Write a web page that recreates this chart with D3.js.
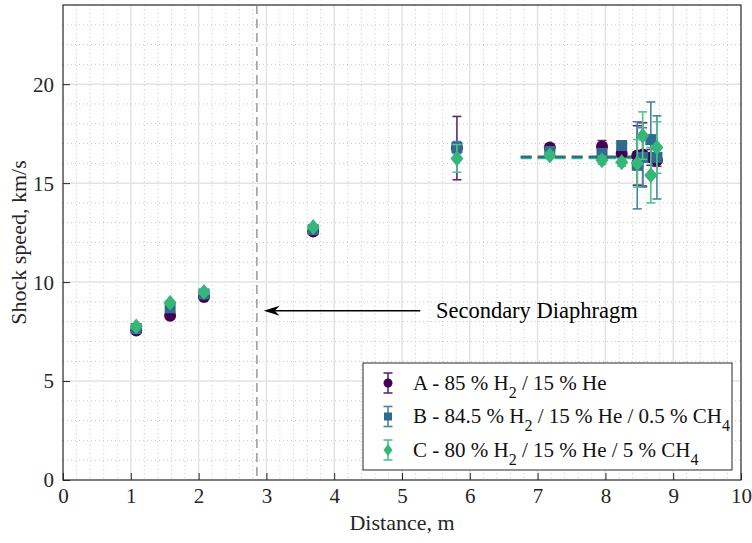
<!DOCTYPE html>
<meta charset="utf-8">
<head>
<style>
  body { margin: 0; background: #fff; }
  svg text { font-family: "Liberation Serif", "Times New Roman", serif; fill: #262626; }
</style>
</head>
<body>
<script src="https://cdnjs.cloudflare.com/ajax/libs/d3/7.8.5/d3.min.js"></script>
<script>

// distances (m) shared by all three mixtures
const distances = [1.08, 1.58, 2.08, 3.69, 5.81, 7.18, 7.95, 8.24, 8.47, 8.55, 8.67, 8.76];

// shock speeds (km/s) and uncertainty per mixture
const speedA = [7.55, 8.3, 9.25, 12.55, 16.77, 16.8, 16.85, 16.5, 16.4, 16.45, 16.3, 16.15];
const errA   = [0.1, 0.1, 0.1, 0.1, 1.6, 0.15, 0.3, 0.2, 1.5, 1.6, 0.4, 0.3];
const speedB = [7.65, 8.7, 9.4, 12.65, 16.8, 16.6, 16.5, 16.9, 15.9, 16.3, 17.2, 16.3];
const errB   = [0.1, 0.1, 0.1, 0.1, 0.3, 0.15, 0.2, 0.2, 2.2, 1.5, 1.9, 2.1];
const speedC = [7.75, 8.95, 9.5, 12.78, 16.25, 16.4, 16.15, 16.05, 16.0, 17.4, 15.4, 16.8];
const errC   = [0.1, 0.1, 0.1, 0.1, 0.7, 0.15, 0.2, 0.2, 1.2, 1.2, 1.4, 1.3];

// mean shock speed lines (dashed) over the end of the tube
const meanRange = [6.75, 8.8];
const meanB = 16.33;
const meanC = 16.27;

const diaphragmX = 2.86;
const arrowFrom = [5.27, 8.55];
const arrowTo = [2.96, 8.55];

const xTicks = d3.range(0, 11, 1);
const yTicks = [0, 5, 10, 15, 20];

const W = 752, H = 543;
const margin = {top: 5, right: 11, bottom: 63, left: 63};
const width = W - margin.left - margin.right,
      height = H - margin.top - margin.bottom;

const x = d3.scaleLinear().domain([0, 10]).range([0, width]);
const y = d3.scaleLinear().domain([0, 24]).range([height, 0]);

const svg = d3.select("body").append("svg")
  .attr("width", W)
  .attr("height", H);

const g = svg.append("g")
  .attr("transform", "translate(" + margin.left + "," + margin.top + ")");

// minor grid
g.append("g").selectAll("line")
  .data(d3.range(0.2, 10, 0.2).filter(v => Math.abs(v - Math.round(v)) > 0.01))
  .join("line")
    .attr("x1", d => x(d)).attr("x2", d => x(d))
    .attr("y1", 0).attr("y2", height)
    .attr("stroke", "#bbb").attr("stroke-width", 0.8)
    .attr("stroke-dasharray", "1,3");
g.append("g").selectAll("line")
  .data(d3.range(1, 24, 1).filter(v => v % 5 !== 0))
  .join("line")
    .attr("x1", 0).attr("x2", width)
    .attr("y1", d => y(d)).attr("y2", d => y(d))
    .attr("stroke", "#bbb").attr("stroke-width", 0.8)
    .attr("stroke-dasharray", "1,3");

// major grid
g.append("g").selectAll("line")
  .data(xTicks.slice(1, -1))
  .join("line")
    .attr("x1", d => x(d)).attr("x2", d => x(d))
    .attr("y1", 0).attr("y2", height)
    .attr("stroke", "#e3e3e3").attr("stroke-width", 1.5);
g.append("g").selectAll("line")
  .data(yTicks.slice(1))
  .join("line")
    .attr("x1", 0).attr("x2", width)
    .attr("y1", d => y(d)).attr("y2", d => y(d))
    .attr("stroke", "#e3e3e3").attr("stroke-width", 1.5);

// axes, ticks pointing inward
const xAxis = d3.axisBottom(x).tickValues(xTicks).tickSizeInner(-7).tickSizeOuter(0).tickPadding(8);
const yAxis = d3.axisLeft(y).tickValues(yTicks).tickSizeInner(-7).tickSizeOuter(0).tickPadding(9);

const gx = g.append("g")
  .attr("transform", "translate(0," + height + ")")
  .call(xAxis);
const gy = g.append("g").call(yAxis);

[gx, gy].forEach(a => {
  a.attr("font-family", null).attr("font-size", null);
  a.select(".domain").remove();
  a.selectAll("line").attr("stroke", "#262626").attr("stroke-width", 1);
  a.selectAll("text")
    .style("font-family", "'Liberation Serif', serif")
    .style("font-size", "21px")
    .attr("fill", "#262626");
});
gy.selectAll("text").attr("dy", "0.33em");

// frame
g.append("rect")
  .attr("width", width).attr("height", height)
  .attr("fill", "none").attr("stroke", "#262626").attr("stroke-width", 1.2);

// secondary diaphragm
g.append("line")
  .attr("x1", x(diaphragmX)).attr("x2", x(diaphragmX))
  .attr("y1", 0).attr("y2", height)
  .attr("stroke", "#808080").attr("stroke-width", 1.2)
  .attr("stroke-dasharray", "9,5");

const ax0 = x(arrowFrom[0]), ax1 = x(arrowTo[0]), ay = y(arrowFrom[1]);
g.append("line")
  .attr("x1", ax0).attr("y1", ay)
  .attr("x2", ax1 + 8).attr("y2", ay)
  .attr("stroke", "#000").attr("stroke-width", 1.6);
g.append("path")
  .attr("d", `M${ax1},${ay} L${ax1 + 16},${ay - 5} L${ax1 + 11},${ay} L${ax1 + 16},${ay + 5} Z`)
  .attr("fill", "#000");

g.append("text")
  .attr("x", x(5.5)).attr("y", ay)
  .attr("dy", "0.33em")
  .style("font-size", "22.5px")
  .style("fill", "#000")
  .text("Secondary Diaphragm");

// mean lines
const colA = "#440154", colB = "#2e6b8e", colC = "#35b779";
const errColA = "#5b2a72", errColB = "#4a82a6", errColC = "#52c28a";

g.append("line")
  .attr("x1", x(meanRange[0])).attr("x2", x(meanRange[1]))
  .attr("y1", y(meanC)).attr("y2", y(meanC))
  .attr("stroke", colC).attr("stroke-width", 2.5)
  .attr("stroke-dasharray", "11,6");
g.append("line")
  .attr("x1", x(meanRange[0])).attr("x2", x(meanRange[1]))
  .attr("y1", y(meanB)).attr("y2", y(meanB))
  .attr("stroke", colB).attr("stroke-width", 2.5)
  .attr("stroke-dasharray", "11,6");

const series = [
  {name: "A", y: speedA, e: errA, col: colA, ecol: errColA, shape: "circle"},
  {name: "B", y: speedB, e: errB, col: colB, ecol: errColB, shape: "square"},
  {name: "C", y: speedC, e: errC, col: colC, ecol: errColC, shape: "diamond"}
];

function drawMarker(sel, shape, col) {
  if (shape === "circle") {
    sel.append("circle").attr("r", 6).attr("fill", col);
  } else if (shape === "square") {
    sel.append("rect").attr("x", -5.5).attr("y", -5.5).attr("width", 11).attr("height", 11).attr("fill", col);
  } else {
    sel.append("path").attr("d", "M0,-8 L6.5,0 L0,8 L-6.5,0 Z").attr("fill", col);
  }
}

function drawErr(sel, half, col) {
  sel.append("line").attr("y1", -half).attr("y2", half).attr("stroke", col).attr("stroke-width", 1.6);
  sel.append("line").attr("x1", -4.5).attr("x2", 4.5).attr("y1", -half).attr("y2", -half).attr("stroke", col).attr("stroke-width", 1.6);
  sel.append("line").attr("x1", -4.5).attr("x2", 4.5).attr("y1", half).attr("y2", half).attr("stroke", col).attr("stroke-width", 1.6);
}

series.forEach(s => {
  const pts = distances.map((d, i) => ({x: d, y: s.y[i], e: s.e[i]}));
  const sg = g.append("g");
  sg.selectAll("g.err")
    .data(pts)
    .join("g")
      .attr("class", "err")
      .attr("transform", d => "translate(" + x(d.x) + "," + y(d.y) + ")")
      .each(function(d) {
        drawErr(d3.select(this), y(d.y - d.e) - y(d.y), s.ecol);
      });
  sg.selectAll("g.pt")
    .data(pts)
    .join("g")
      .attr("class", "pt")
      .attr("transform", d => "translate(" + x(d.x) + "," + y(d.y) + ")")
      .each(function() { drawMarker(d3.select(this), s.shape, s.col); });
});

// legend
const legendLabels = [
  [["A - 85 % H", 0], ["2", 1], [" / 15 % He", 0]],
  [["B - 84.5 % H", 0], ["2", 1], [" / 15 % He / 0.5 % CH", 0], ["4", 1]],
  [["C - 80 % H", 0], ["2", 1], [" / 15 % He / 5 % CH", 0], ["4", 1]]
];

const lg = g.append("g").attr("transform", "translate(" + (363 - margin.left) + "," + (363 - margin.top) + ")");
lg.append("rect")
  .attr("width", 369).attr("height", 107)
  .attr("fill", "#fff").attr("stroke", "#262626").attr("stroke-width", 1);

series.forEach((s, i) => {
  const row = lg.append("g").attr("transform", "translate(25," + (20 + i * 33.5) + ")");
  drawErr(row, 10, s.ecol);
  const m = row.append("g");
  if (s.shape === "circle") m.append("circle").attr("r", 4.5).attr("fill", s.col);
  else if (s.shape === "square") m.append("rect").attr("x", -4).attr("y", -4).attr("width", 8).attr("height", 8).attr("fill", s.col);
  else m.append("path").attr("d", "M0,-6 L4.5,0 L0,6 L-4.5,0 Z").attr("fill", s.col);

  const t = row.append("text")
    .attr("x", 25).attr("y", 0).attr("dy", "0.33em")
    .style("font-size", "21px")
    .style("fill", "#111");
  let sub = false;
  legendLabels[i].forEach(([txt, isSub]) => {
    const ts = t.append("tspan").text(txt);
    if (isSub && !sub) { ts.attr("dy", 8).style("font-size", "16px"); sub = true; }
    else if (!isSub && sub) { ts.attr("dy", -8); sub = false; }
  });
});

// axis titles
svg.append("text")
  .attr("x", margin.left + width / 2).attr("y", 530)
  .attr("text-anchor", "middle")
  .style("font-size", "22px")
  .text("Distance, m");

svg.append("text")
  .attr("transform", "translate(26," + (margin.top + height / 2) + ") rotate(-90)")
  .attr("text-anchor", "middle")
  .style("font-size", "22px")
  .text("Shock speed, km/s");

</script>
</body>
